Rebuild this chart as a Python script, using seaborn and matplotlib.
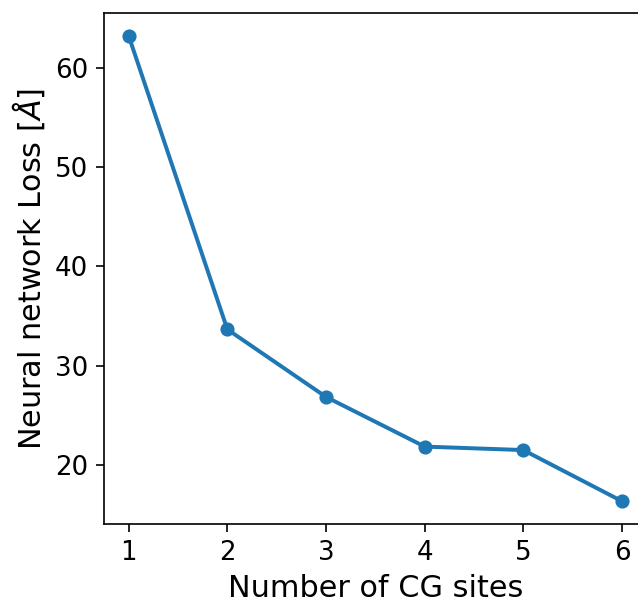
import matplotlib
matplotlib.use("Agg")
import matplotlib.pyplot as plt
import seaborn as sns
import pandas as pd

cg_sites = [1, 2, 3, 4, 5, 6]
loss = [63.2, 33.65, 26.85, 21.85, 21.5, 16.35]

df = pd.DataFrame({"sites": cg_sites, "loss": loss})

fig = plt.figure(figsize=(638/150, 600/150), dpi=150)
ax = fig.add_axes([0.163, 0.1267, 0.8506, 0.8517])
sns.lineplot(data=df, x="sites", y="loss", marker="o", color="#1f77b4",
             linewidth=1.9, markersize=6.8, markeredgewidth=0, ax=ax)
ax.set_xlim(0.75, 6.25)
ax.set_ylim(14.06, 65.5)
ax.set_xticks(cg_sites)
ax.set_yticks([20, 30, 40, 50, 60])
ax.tick_params(labelsize=12.5, length=4)
ax.set_xlabel("Number of CG sites", fontsize=14.5)
ax.set_ylabel(r"Neural network Loss [$\AA$]", fontsize=14.5)
fig.savefig("out.png", dpi=150)
